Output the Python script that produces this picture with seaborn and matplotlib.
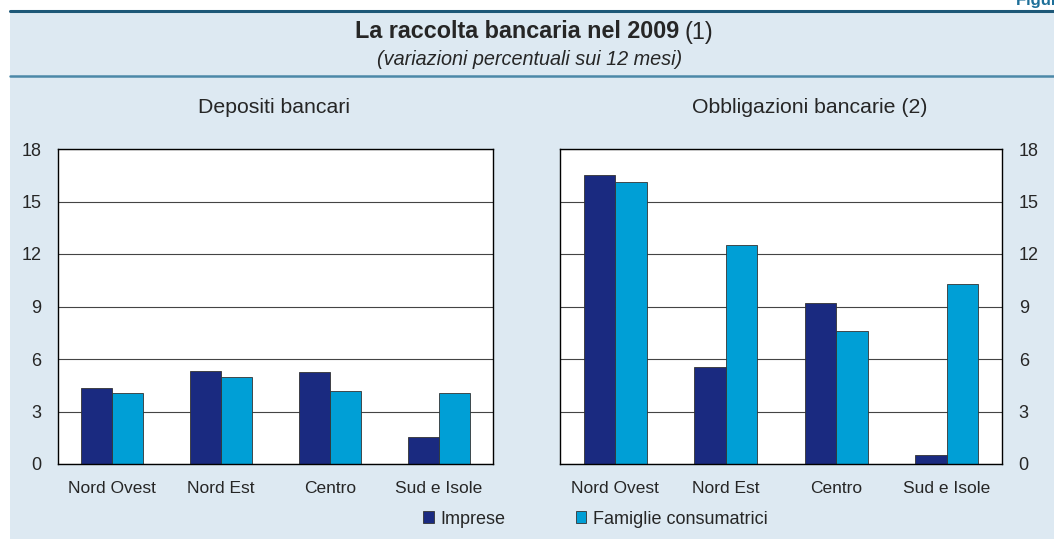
import pandas as pd
import seaborn as sns
import matplotlib.pyplot as plt
from matplotlib.patches import Rectangle, Patch
from matplotlib.lines import Line2D

regions = ["Nord Ovest", "Nord Est", "Centro", "Sud e Isole"]
series = ["Imprese", "Famiglie consumatrici"]

depositi_imprese = [4.33, 5.31, 5.27, 1.56]
depositi_famiglie = [4.04, 4.95, 4.15, 4.04]
obblig_imprese = [16.51, 5.52, 9.22, 0.51]
obblig_famiglie = [16.13, 12.51, 7.58, 10.29]

yticks = [0, 3, 6, 9, 12, 15, 18]

colors = {"Imprese": "#1a2a80", "Famiglie consumatrici": "#009fd6"}
bg = "#dde9f2"

def long_df(imp, fam):
    return pd.DataFrame({
        "regione": regions * 2,
        "serie": [series[0]] * 4 + [series[1]] * 4,
        "valore": imp + fam,
    })

sns.set_style("white")
plt.rcParams['font.family'] = ['Liberation Sans', 'DejaVu Sans']

fig = plt.figure(figsize=(10.54, 5.39), dpi=100)
W, H = 1054, 539

# light blue panel and rules
fig.patches.append(Rectangle((10 / W, 0), 1 - 10 / W, 1 - 10 / H, transform=fig.transFigure,
                             facecolor=bg, edgecolor="none", zorder=-5))
fig.add_artist(Line2D([10 / W, 1], [1 - 11 / H] * 2, color="#1d5878", lw=2.2))
fig.add_artist(Line2D([10 / W, 1], [1 - 76 / H] * 2, color="#4b88a8", lw=1.8))

fig.text(1016 / W, 1 - 1 / H, "Figura 8.", color="#1d6f99", fontsize=12, fontweight="bold",
         ha="left", va="center")
fig.text(679 / W, 1 - 32 / H, "La raccolta bancaria nel 2009", fontsize=16.8,
         fontweight="bold", ha="right", va="center")
fig.text(685 / W, 1 - 32 / H, "(1)", fontsize=16.8, ha="left", va="center")
fig.text(530 / W, 1 - 60 / H, "(variazioni percentuali sui 12 mesi)", fontsize=14.3,
         style="italic", ha="center", va="center")

axes = [
    fig.add_axes([58 / W, 75 / H, 435 / W, 315 / H]),
    fig.add_axes([560 / W, 75 / H, 442 / W, 315 / H]),
]
data = [long_df(depositi_imprese, depositi_famiglie), long_df(obblig_imprese, obblig_famiglie)]
titles = ["Depositi bancari", "Obbligazioni bancarie (2)"]
title_x = [274 / W, 810 / W]

for ax, df, title, tx in zip(axes, data, titles, title_x):
    sns.barplot(data=df, x="regione", y="valore", hue="serie", palette=colors,
                width=0.57, edgecolor="#333333", linewidth=0.6, ax=ax, legend=False,
                saturation=1)
    ax.set_facecolor("white")
    ax.set_ylim(0, 18)
    ax.set_xlim(-0.5, 3.5)
    ax.set_yticks(yticks)
    ax.set_xlabel("")
    ax.set_ylabel("")
    ax.yaxis.grid(True, color="#444444", lw=0.8)
    ax.set_axisbelow(True)
    for s in ax.spines.values():
        s.set_color("black")
        s.set_linewidth(1.0)
    ax.set_xticks([0.5, 1.5, 2.5], minor=True)
    ax.tick_params(axis="x", which="major", length=0, pad=12, labelsize=12.5)
    ax.tick_params(axis="x", which="minor", direction="in", length=4, color="#555555", top=False)
    ax.tick_params(axis="y", length=0, pad=12, labelsize=13)
    fig.text(tx, 1 - 108 / H, title, ha="center", va="center", fontsize=15.3)

axes[1].yaxis.tick_right()
axes[1].tick_params(axis="y", length=0, pad=12, labelsize=13)

handles = [Patch(facecolor=colors[s], edgecolor="#333333", linewidth=0.6) for s in series]
fig.legend(handles, series, loc="center left", bbox_to_anchor=(423 / W, 1 - 519 / H), ncol=2,
           frameon=False, fontsize=13, handlelength=0.6, handleheight=0.6, borderpad=0,
           borderaxespad=0, handletextpad=0.35, columnspacing=3.9)

fig.savefig("out.png", dpi=100, facecolor="white")
